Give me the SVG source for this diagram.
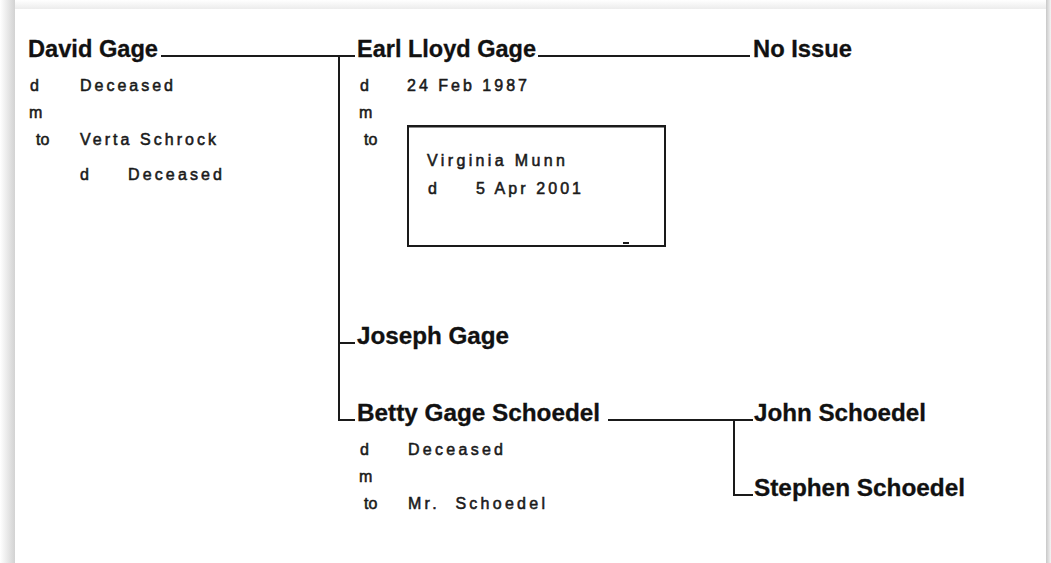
<svg xmlns="http://www.w3.org/2000/svg" width="1051" height="563" viewBox="0 0 1051 563">
<defs>
<linearGradient id="gl" x1="0" y1="0" x2="1" y2="0"><stop offset="0" stop-color="#ffffff"/><stop offset="1" stop-color="#cfcfcf"/></linearGradient>
<linearGradient id="gr" x1="0" y1="0" x2="1" y2="0"><stop offset="0" stop-color="#c8c8c8"/><stop offset="1" stop-color="#f4f4f4"/></linearGradient>
<linearGradient id="gt" x1="0" y1="0" x2="0" y2="1"><stop offset="0" stop-color="#ffffff"/><stop offset="1" stop-color="#ececec"/></linearGradient>
<style>
.name{font-family:"Liberation Sans",Arial,sans-serif;font-weight:bold;font-size:23px;fill:#111;stroke:#111;stroke-width:0.3}
.det{font-family:"Liberation Sans",Arial,sans-serif;font-size:16px;fill:#1a1a1a;stroke:#1a1a1a;stroke-width:0.55}
.ln{stroke:#1a1a1a;stroke-width:2;fill:none}
</style>
</defs>
<rect x="0" y="0" width="1051" height="563" fill="#fafafa"/>
<rect x="0" y="0" width="16" height="563" fill="url(#gl)"/>
<rect x="15" y="0" width="1032" height="9" fill="url(#gt)"/>
<rect x="1046" y="0" width="5" height="563" fill="url(#gr)"/>
<rect x="15" y="9" width="1031" height="554" fill="#ffffff"/>

<g id="connectors">
<path class="ln" d="M161 56 H355 M339 56 V421 M339 343 H355 M339 420 H355"/>
<path class="ln" d="M538 56 H750"/>
<path class="ln" d="M608 420 H753 M734 420 V495 H753"/>
</g>

<g id="david">
<text class="name" x="28" y="57" textLength="130" lengthAdjust="spacingAndGlyphs">David Gage</text>
<text class="det" x="30" y="91">d</text>
<text class="det" x="80" y="91" textLength="93" lengthAdjust="spacing">Deceased</text>
<text class="det" x="29" y="118">m</text>
<text class="det" x="36" y="145">to</text>
<text class="det" x="80" y="145" textLength="136" lengthAdjust="spacing">Verta Schrock</text>
<text class="det" x="80" y="180">d</text>
<text class="det" x="128" y="180" textLength="94" lengthAdjust="spacing">Deceased</text>
</g>

<g id="earl">
<text class="name" x="357" y="57" textLength="179" lengthAdjust="spacingAndGlyphs">Earl Lloyd Gage</text>
<text class="det" x="360" y="91">d</text>
<text class="det" x="407" y="91" textLength="120" lengthAdjust="spacing">24 Feb 1987</text>
<text class="det" x="359" y="118">m</text>
<text class="det" x="364" y="145">to</text>
</g>

<g id="virginia">
<rect x="408" y="126" width="257" height="120" fill="none" stroke="#1a1a1a" stroke-width="2"/>
<line x1="408" y1="126.5" x2="665" y2="126.5" stroke="#1a1a1a" stroke-width="2"/>
<rect x="623" y="242" width="6" height="2" fill="#1a1a1a"/>
<text class="det" x="427" y="166" textLength="138" lengthAdjust="spacing">Virginia Munn</text>
<text class="det" x="428" y="194">d</text>
<text class="det" x="476" y="194" textLength="105" lengthAdjust="spacing">5 Apr 2001</text>
</g>

<g id="noissue">
<text class="name" x="753" y="57" textLength="99" lengthAdjust="spacingAndGlyphs">No Issue</text>
</g>

<g id="joseph">
<text class="name" x="357" y="344" textLength="152" lengthAdjust="spacingAndGlyphs">Joseph Gage</text>
</g>

<g id="betty">
<text class="name" x="357" y="421" textLength="243" lengthAdjust="spacingAndGlyphs">Betty Gage Schoedel</text>
<text class="det" x="360" y="455">d</text>
<text class="det" x="408" y="455" textLength="95" lengthAdjust="spacing">Deceased</text>
<text class="det" x="359" y="482">m</text>
<text class="det" x="364" y="509">to</text>
<text class="det" x="408" y="509" textLength="137" lengthAdjust="spacing" style="white-space:pre">Mr.  Schoedel</text>
</g>

<g id="john">
<text class="name" x="754" y="421" textLength="172" lengthAdjust="spacingAndGlyphs">John Schoedel</text>
</g>

<g id="stephen">
<text class="name" x="754" y="496" textLength="211" lengthAdjust="spacingAndGlyphs">Stephen Schoedel</text>
</g>
</svg>
